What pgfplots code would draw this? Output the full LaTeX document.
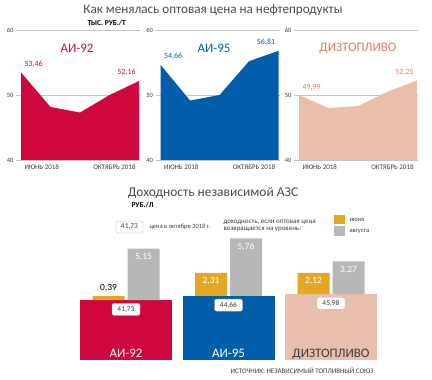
\documentclass[border=0pt]{standalone}
\usepackage{pgfplots}
\pgfplotsset{compat=1.18}
\usepackage{pgfplotstable}
\usepackage{fontspec}
\setmainfont{Carlito}
\definecolor{cred}{RGB}{208,6,62}
\definecolor{cblue}{RGB}{0,94,170}
\definecolor{cpink}{RGB}{234,190,172}
\definecolor{csalmon}{RGB}{226,120,100}
\definecolor{cgold}{RGB}{227,167,36}
\definecolor{cgray}{RGB}{183,183,183}
\definecolor{cgrid}{RGB}{195,195,195}
\definecolor{ctext}{RGB}{60,60,60}
\definecolor{ctitle}{RGB}{75,75,75}
\newcommand{\fs}[1]{\fontsize{#1}{#1}\selectfont}

\pgfplotstableread{
x base jun aug
0 41.73 0.39 5.15
1 44.66 2.31 5.76
2 45.98 2.12 3.27
}\income

\begin{document}
\begin{tikzpicture}
\useasboundingbox (0bp,0bp) rectangle (432bp,380bp);

\pgfplotsset{
  panel/.style={scale only axis, width=124bp, height=130bp,
    xmin=-0.17, xmax=4.03, ymin=40, ymax=60,
    anchor=south west, clip=false,
    axis line style={draw=none}, major tick length=0pt,
    xtick=\empty, ytick={40,50,60},
    ymajorgrids, grid style={cgrid, line width=0.9bp},
    /pgf/number format/assume math mode=true,
    yticklabel style={font=\fs{6.5}, text=ctext, xshift=1bp}},
  bot/.style={scale only axis, width=307.5bp, height=143.5bp,
    xmin=-0.5, xmax=2.5, ymin=0, ymax=100, hide axis, clip=false,
    anchor=south west, at={(74.75bp,20bp)}}
}

% ---------- top titles ----------
\node[text=ctitle, font=\fs{13.2}] at (213bp,370bp) {Как менялась оптовая цена на нефтепродукты};
\node[anchor=west, font=\fs{7.5}\bfseries, text=black] at (84bp,357bp) {ТЫС. РУБ./Т};

% ---------- panel 1 ----------
\begin{axis}[panel, at={(16bp,220bp)}]
\addplot[fill=cred, draw=none] coordinates {(0,40) (0,53.46) (1,48.15) (2,47.3) (3,50.0) (4,52.16) (4,40)} -- cycle;
\node[anchor=south west, text=cred, font=\fs{8}, yshift=1.5bp] at (axis cs:0,53.46) {53,46};
\node[anchor=south east, text=cred, font=\fs{8}, yshift=1.5bp] at (axis cs:4,52.16) {52,16};
\node[anchor=north west, text=ctext, font=\fs{7}, yshift=-1bp] at (axis cs:0,40) {ИЮНЬ 2018};
\node[anchor=north east, text=ctext, font=\fs{7}, yshift=-1bp] at (axis cs:4,40) {ОКТЯБРЬ 2018};
\end{axis}
\node[text=cred, font=\fs{13}] at (77bp,332bp) {АИ-92};

% ---------- panel 2 ----------
\begin{axis}[panel, at={(155.5bp,220bp)}]
\addplot[fill=cblue, draw=none] coordinates {(0,40) (0,54.66) (1,49.15) (2,50.0) (3,55.2) (4,56.81) (4,40)} -- cycle;
\node[anchor=south west, text=cblue, font=\fs{8}, yshift=1.5bp] at (axis cs:0,54.66) {54,66};
\node[anchor=south east, text=cblue, font=\fs{8}, yshift=1.5bp] at (axis cs:4,56.81) {56,81};
\node[anchor=north west, text=ctext, font=\fs{7}, yshift=-1bp] at (axis cs:0,40) {ИЮНЬ 2018};
\node[anchor=north east, text=ctext, font=\fs{7}, yshift=-1bp] at (axis cs:4,40) {ОКТЯБРЬ 2018};
\end{axis}
\node[text=cblue, font=\fs{13}] at (214bp,332bp) {АИ-95};

% ---------- panel 3 ----------
\begin{axis}[panel, at={(294bp,220bp)}]
\addplot[fill=cpink, draw=none] coordinates {(0,40) (0,49.99) (1,48.0) (2,48.3) (3,50.5) (4,52.25) (4,40)} -- cycle;
\node[anchor=south west, text=csalmon, font=\fs{8}, yshift=1.5bp] at (axis cs:0,49.99) {49,99};
\node[anchor=south east, text=csalmon, font=\fs{8}, yshift=1.5bp] at (axis cs:4,52.25) {52,25};
\node[anchor=north west, text=ctext, font=\fs{7}, yshift=-1bp] at (axis cs:0,40) {ИЮНЬ 2018};
\node[anchor=north east, text=ctext, font=\fs{7}, yshift=-1bp] at (axis cs:4,40) {ОКТЯБРЬ 2018};
\end{axis}
\node[text=csalmon, font=\fs{13}] at (358bp,332bp) {ДИЗТОПЛИВО};

% ---------- bottom titles / legend ----------
\node[text=ctitle, font=\fs{13.5}] at (213bp,187bp) {Доходность независимой АЗС};
\node[anchor=west, font=\fs{7.5}\bfseries, text=black] at (128bp,175bp) {РУБ./Л};

\node[draw=cgray, fill=white, rounded corners=2bp, minimum width=27bp, minimum height=12bp, inner sep=1bp, font=\fs{7.5}, text=ctext] at (129.5bp,153bp) {41,73};
\node[anchor=west, font=\fs{6.5}, text=ctext] at (146bp,153bp) {цена в октябре 2018 г.};
\node[anchor=west, font=\fs{7}, text=ctext] at (220bp,158bp) {доходность, если оптовая цена};
\node[anchor=west, font=\fs{7}, text=ctext] at (220bp,150.5bp) {возвращается на уровень:};
\fill[cgold] (334bp,156bp) rectangle (345bp,165bp);
\fill[cgray] (334bp,144bp) rectangle (345bp,154bp);
\node[anchor=west, font=\fs{6.5}, text=ctext] at (346bp,160.5bp) {июня};
\node[anchor=west, font=\fs{6.5}, text=ctext] at (346bp,149bp) {августа};

% ---------- base bars ----------
\begin{axis}[bot, ybar, bar width=92bp]
\addplot[fill=cred, draw=none, bar shift=0pt] coordinates {(0,41.73)};
\addplot[fill=cblue, draw=none, bar shift=0pt] coordinates {(1,44.66)};
\addplot[fill=cpink, draw=none, bar shift=0pt] coordinates {(2,45.98)};
\node[anchor=base, text=white, font=\fs{13}, yshift=3bp] at (axis cs:0,0) {АИ-92};
\node[anchor=base, text=white, font=\fs{13}, yshift=3bp] at (axis cs:1,0) {АИ-95};
\node[anchor=base, text=ctext, font=\fs{13}, yshift=3bp] at (axis cs:2,0) {ДИЗТОПЛИВО};
\end{axis}

% ---------- June bars ----------
\begin{axis}[bot, ybar stacked, bar width=32bp]
\addplot[draw=none, fill=none, bar shift=-17.5bp] table[x=x, y=base] {\income};
\addplot[fill=cgold, draw=none, bar shift=-17.5bp] table[x=x, y expr=\thisrow{jun}*6.969] {\income};
\end{axis}

% ---------- August bars ----------
\begin{axis}[bot, ybar stacked, bar width=32bp]
\addplot[draw=none, fill=none, bar shift=17.5bp] table[x=x, y=base] {\income};
\addplot[fill=cgray, draw=none, bar shift=17.5bp] table[x=x, y expr=\thisrow{aug}*6.969] {\income};
\end{axis}

% ---------- labels on bars ----------
\begin{axis}[bot]
\node[anchor=south, text=black, font=\fs{9.5}, xshift=-17.5bp, yshift=0.5bp] at (axis cs:0,44.45) {0,39};
\node[anchor=north, text=white, font=\fs{9.5}, xshift=-17.5bp, yshift=-1.5bp] at (axis cs:1,60.76) {2,31};
\node[anchor=north, text=white, font=\fs{9.5}, xshift=-17.5bp, yshift=-1.5bp] at (axis cs:2,60.75) {2,12};
\node[anchor=north, text=white, font=\fs{9.5}, xshift=17.5bp, yshift=-1.5bp] at (axis cs:0,77.62) {5,15};
\node[anchor=north, text=white, font=\fs{9.5}, xshift=17.5bp, yshift=-1.5bp] at (axis cs:1,84.80) {5,76};
\node[anchor=north, text=white, font=\fs{9.5}, xshift=17.5bp, yshift=-1.5bp] at (axis cs:2,68.77) {3,27};
\tikzset{vbox/.style={draw=cgray, fill=white, rounded corners=2bp, minimum width=28bp, minimum height=12bp, inner sep=1bp, font=\fs{7.5}, text=ctext, anchor=north, yshift=-3bp}}
\node[vbox] at (axis cs:0,41.73) {41,73};
\node[vbox] at (axis cs:1,44.66) {44,66};
\node[vbox] at (axis cs:2,45.98) {45,98};
\end{axis}

\node[anchor=east, font=\fs{7}, text=ctext] at (377bp,9bp) {ИСТОЧНИК: НЕЗАВИСИМЫЙ ТОПЛИВНЫЙ СОЮЗ};
\end{tikzpicture}
\end{document}
